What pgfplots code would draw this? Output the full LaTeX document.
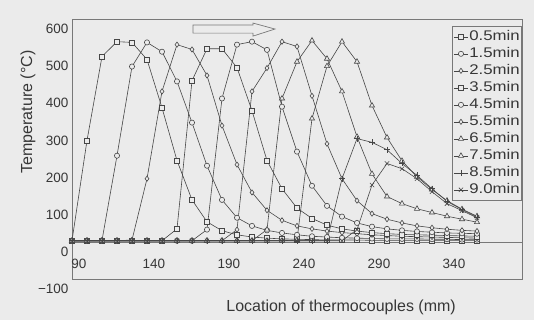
\documentclass[border=0pt]{standalone}
\usepackage{fontspec}
\setmainfont{Liberation Sans}
\newfontfamily\legfont[FakeStretch=1.2]{Liberation Sans}
\usepackage{pgfplots}
\pgfplotsset{compat=1.18}
\definecolor{bg}{RGB}{235,235,235}
\definecolor{ln}{RGB}{70,70,70}
\definecolor{axc}{RGB}{120,120,120}
\definecolor{tx}{RGB}{55,55,55}
\pgfplotsset{cv/.style={ln, line width=0.6bp, solid, mark size=2.6bp, mark options={solid, fill=bg, draw=ln, line width=0.6bp}}}
\begin{document}
\begin{tikzpicture}
\fill[bg] (-72bp,-41bp) rectangle (462bp,279bp);
\begin{axis}[
 at={(0,0)}, anchor=south west,
 scale only axis, width=450bp, height=260bp,
 xmin=90, xmax=390, ymin=-100, ymax=600,
 axis line style={axc, line width=0.7bp},
 xtick={90,140,190,240,290,340},
 xticklabels={90,140,190,240,290,340},
 ytick={-100,0,100,200,300,400,500,600},
 yticklabels={−100,0,100,200,300,400,500,600},
 xtick style={draw=none},
 ytick style={draw=none},
 xticklabel style={font=\fontsize{13.5bp}{14bp}\selectfont, text=tx, anchor=center, xshift=7bp, yshift=15bp},
 yticklabel style={font=\fontsize{13.5bp}{14bp}\selectfont, text=tx, yshift=-10bp},
 xlabel={Location of thermocouples (mm)},
 ylabel={Temperature (°C)},
 every axis x label/.style={at={(axis description cs:0.598,-0.11)}, anchor=center, font=\fontsize{16bp}{18bp}\selectfont, text=tx},
 every axis y label/.style={at={(axis description cs:-0.0978,0.642)}, rotate=90, anchor=center, font=\fontsize{16bp}{18bp}\selectfont, text=tx},
 clip=false,
 legend cell align=left,
 legend style={at={(axis description cs:1,0.973)}, anchor=north east, draw=axc, line width=0.6bp, fill=bg,
   font={\legfont\fontsize{14bp}{14bp}\selectfont}, text=tx, inner xsep=1bp, inner ysep=2bp,
   nodes={inner xsep=1bp, inner ysep=1.2bp, text height=10.8bp, text depth=3.8bp}},
 legend image code/.code={\draw[mark repeat=2,mark phase=2] plot coordinates {(0bp,0bp) (7bp,0bp) (14bp,0bp)};},
]
\draw[axc, line width=0.7bp] (axis cs:90,0) -- (axis cs:390,0);
% 0.5 min
\addplot[cv, mark=square*] coordinates {(90,3)(100,273)(110,499)(120,539)(130,537)(140,491)(150,361)(160,219)(170,113)(180,54)(190,30)(200,19)(210,13)(220,10)(230,8)(240,7)(250,6)(260,5)(270,5)(280,5)(290,4)(300,4)(310,4)(320,4)(330,4)(340,4)(350,4)(360,4)};
% 1.5 min
\addplot[cv, mark=*] coordinates {(90,3)(100,3)(110,4)(120,232)(130,472)(140,537)(150,512)(160,432)(170,321)(180,205)(190,113)(200,65)(210,43)(220,31)(230,24)(240,19)(250,15)(260,13)(270,11)(280,10)(290,9)(300,8)(310,8)(320,8)(330,7)(340,7)(350,6)(360,6)};
% 2.5 min
\addplot[cv, mark=diamond*] coordinates {(90,3)(100,3)(110,3)(120,3)(130,5)(140,170)(150,405)(160,531)(170,518)(180,448)(190,313)(200,208)(210,133)(220,85)(230,58)(240,43)(250,35)(260,29)(270,25)(280,22)(290,19)(300,17)(310,15)(320,14)(330,13)(340,12)(350,11)(360,10)};
% 3.5 min
\addplot[cv, mark=square*] coordinates {(90,3)(100,3)(110,3)(120,3)(130,3)(140,3)(150,3)(160,35)(170,434)(180,520)(190,520)(200,469)(210,353)(220,219)(230,143)(240,91)(250,63)(260,45)(270,35)(280,29)(290,25)(300,22)(310,20)(320,19)(330,18)(340,17)(350,16)(360,15)};
% 4.5 min
\addplot[cv, mark=*] coordinates {(90,3)(100,3)(110,3)(120,3)(130,3)(140,3)(150,3)(160,3)(170,3)(180,33)(190,386)(200,531)(210,539)(220,517)(230,364)(240,243)(250,151)(260,97)(270,68)(280,51)(290,41)(300,35)(310,31)(320,28)(330,26)(340,24)(350,23)(360,22)};
% 5.5 min
\addplot[cv, mark=diamond*] coordinates {(90,3)(100,3)(110,3)(120,3)(130,3)(140,3)(150,3)(160,3)(170,3)(180,3)(190,3)(200,33)(210,405)(220,468)(230,539)(240,526)(250,393)(260,264)(270,170)(280,111)(290,76)(300,61)(310,51)(320,43)(330,38)(340,34)(350,31)(360,29)};
% 6.5 min
\addplot[cv, mark=triangle*, mark size=3bp] coordinates {(90,3)(100,3)(110,3)(120,3)(130,3)(140,3)(150,3)(160,3)(170,3)(180,3)(190,3)(200,3)(210,3)(220,33)(230,386)(240,485)(250,542)(260,493)(270,405)(280,283)(290,183)(300,122)(310,103)(320,89)(330,79)(340,69)(350,61)(360,53)};
% 7.5 min
\addplot[cv, mark=triangle*, mark size=3bp] coordinates {(90,3)(100,3)(110,3)(120,3)(130,3)(140,3)(150,3)(160,3)(170,3)(180,3)(190,3)(200,3)(210,3)(220,3)(230,3)(240,5)(250,332)(260,473)(270,539)(280,485)(290,367)(300,281)(310,218)(320,175)(330,141)(340,111)(350,88)(360,69)};
% 8.5 min
\addplot[cv, mark=+, mark size=3bp] coordinates {(90,3)(100,3)(110,3)(120,3)(130,3)(140,3)(150,3)(160,3)(170,3)(180,3)(190,3)(200,3)(210,3)(220,3)(230,3)(240,3)(250,3)(260,3)(270,170)(280,278)(290,268)(300,248)(310,211)(320,179)(330,143)(340,109)(350,87)(360,67)};
% 9.0 min
\addplot[cv, mark=x, mark size=3bp] coordinates {(90,3)(100,3)(110,3)(120,3)(130,3)(140,3)(150,3)(160,3)(170,3)(180,3)(190,3)(200,3)(210,3)(220,3)(230,3)(240,3)(250,3)(260,3)(270,3)(280,33)(290,153)(300,211)(310,197)(320,170)(330,135)(340,103)(350,84)(360,65)};
\legend{0.5min,1.5min,2.5min,3.5min,4.5min,5.5min,6.5min,7.5min,8.5min,9.0min}
\draw[axc, line width=0.7bp, fill=bg] (axis cs:170.7,562) -- (axis cs:210.7,562) -- (axis cs:210.7,554) -- (axis cs:225.3,573) -- (axis cs:210.7,589) -- (axis cs:210.7,584) -- (axis cs:170.7,584) -- cycle;
\end{axis}
\pgfresetboundingbox
\path (-72bp,-41bp) rectangle (462bp,279bp);
\end{tikzpicture}
\end{document}
